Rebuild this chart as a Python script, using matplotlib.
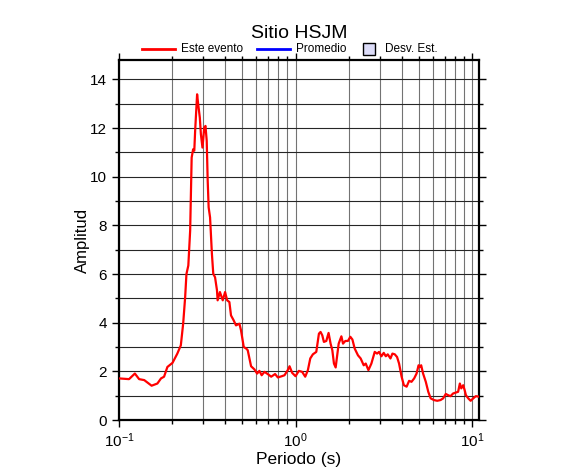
import numpy as np
import matplotlib
matplotlib.use('Agg')
import matplotlib.pyplot as plt
from matplotlib.lines import Line2D
from matplotlib.patches import Rectangle
from matplotlib.ticker import LogLocator, MultipleLocator

plt.rcParams['font.family'] = ['Liberation Sans', 'DejaVu Sans']

# periodo (s) y amplitud
periodo = [0.100, 0.114, 0.123, 0.130, 0.139, 0.153, 0.165, 0.173, 0.180, 0.188,
           0.201, 0.214, 0.224, 0.231, 0.237, 0.241, 0.247, 0.253, 0.258, 0.263,
           0.267, 0.270, 0.277, 0.281, 0.287, 0.291, 0.297, 0.304, 0.309, 0.314,
           0.318, 0.322, 0.328, 0.336, 0.342, 0.350, 0.359, 0.362, 0.373, 0.387,
           0.399, 0.410, 0.422, 0.431, 0.446, 0.460, 0.481, 0.491, 0.509, 0.525,
           0.536, 0.560, 0.585, 0.606, 0.624, 0.643, 0.667, 0.696, 0.728, 0.766,
           0.794, 0.836, 0.866, 0.904, 0.925, 0.957, 1.000, 1.044, 1.090, 1.135,
           1.175, 1.212, 1.254, 1.311, 1.357, 1.386, 1.418, 1.448, 1.494, 1.539,
           1.580, 1.616, 1.651, 1.688, 1.717, 1.756, 1.819, 1.858, 1.916, 1.981,
           2.044, 2.100, 2.163, 2.258, 2.339, 2.434, 2.499, 2.588, 2.690, 2.810,
           2.897, 2.973, 3.066, 3.160, 3.247, 3.330, 3.450, 3.540, 3.650, 3.760,
           3.860, 3.990, 4.110, 4.260, 4.400, 4.540, 4.700, 4.850, 4.980, 5.060,
           5.150, 5.280, 5.470, 5.650, 5.830, 6.080, 6.350, 6.630, 6.860, 7.100,
           7.320, 7.550, 7.810, 8.090, 8.340, 8.530, 8.690, 8.910, 9.080, 9.230,
           9.520, 9.820, 10.16, 10.50, 10.95]
amplitud = [1.71, 1.68, 1.91, 1.68, 1.64, 1.41, 1.50, 1.71, 1.78, 2.18,
            2.35, 2.73, 3.07, 3.97, 5.05, 6.00, 6.35, 7.79, 10.79, 11.13,
            11.07, 11.89, 13.39, 12.98, 12.43, 11.75, 11.20, 12.02, 12.09, 11.48,
            9.84, 8.74, 8.33, 6.83, 6.01, 5.87, 5.33, 4.92, 5.26, 4.92,
            5.26, 4.92, 4.85, 4.30, 4.10, 3.89, 3.96, 3.69, 3.00, 2.94,
            2.87, 2.21, 2.08, 1.91, 2.02, 1.84, 1.98, 1.89, 1.78, 1.89,
            1.75, 1.80, 1.84, 2.05, 2.21, 1.94, 1.80, 2.02, 1.98, 1.78,
            2.05, 2.53, 2.70, 2.80, 3.55, 3.62, 3.48, 3.21, 3.25, 3.58,
            3.14, 2.87, 2.32, 2.16, 2.59, 3.14, 3.44, 3.14, 3.25, 3.25,
            3.42, 3.31, 2.94, 2.66, 2.53, 2.25, 2.32, 2.05, 2.32, 2.80,
            2.73, 2.80, 2.62, 2.76, 2.62, 2.70, 2.53, 2.73, 2.70, 2.59,
            2.32, 1.78, 1.43, 1.37, 1.61, 1.57, 1.71, 1.91, 2.25, 2.18,
            2.25, 1.91, 1.57, 1.16, 0.89, 0.82, 0.79, 0.82, 0.89, 1.07,
            1.02, 0.98, 1.09, 1.13, 1.16, 1.50, 1.30, 1.43, 1.23, 1.02,
            0.89, 0.79, 0.89, 0.98, 0.96]

W, H = 586, 475
fig = plt.figure(figsize=(W / 100, H / 100), dpi=100)
ax = fig.add_axes([119 / W, 55 / H, 360 / W, 360 / H])

ax.plot(periodo, amplitud, color='red', lw=1.6, zorder=3)

ax.set_xscale('log')
ax.set_xlim(0.1, 10.95)
ax.set_ylim(0, 14.8)
ax.xaxis.set_major_locator(LogLocator(base=10))
ax.xaxis.set_minor_locator(LogLocator(base=10, subs=np.arange(2, 10)))
ax.yaxis.set_major_locator(MultipleLocator(2))
ax.yaxis.set_minor_locator(MultipleLocator(1))

ax.grid(True, axis='x', which='both', color='0.45', lw=0.8)
ax.grid(True, axis='y', which='both', color='0.15', lw=0.8)

for s in ax.spines.values():
    s.set_linewidth(1.6)
ax.tick_params(which='both', direction='out', top=True, right=True,
               labelsize=11, width=1)
ax.tick_params(which='major', length=5)
ax.tick_params(which='minor', length=3)

ax.set_xlabel('Periodo (s)', fontsize=12.5, labelpad=1)
ax.set_ylabel('Amplitud', fontsize=12, labelpad=0)
fig.text(299 / W, 1 - 33 / H, 'Sitio HSJM', ha='center', va='center', fontsize=14)

# leyenda dibujada a mano sobre el marco
ly = 1 - 49 / H
fig.add_artist(Line2D([142 / W, 175 / W], [ly, ly], color='red', lw=2, transform=fig.transFigure))
fig.text(181 / W, ly, 'Este evento', va='center', fontsize=8.5)
fig.add_artist(Line2D([257 / W, 290 / W], [ly, ly], color='blue', lw=2, transform=fig.transFigure))
fig.text(296 / W, ly, 'Promedio', va='center', fontsize=8.5)
fig.add_artist(Rectangle((363 / W, ly - 6 / H), 12 / W, 12 / H, facecolor='#dcdcf8',
                         edgecolor='black', lw=1, transform=fig.transFigure))
fig.text(385 / W, ly, 'Desv. Est.', va='center', fontsize=8.5)

fig.savefig('out.png', dpi=100)
